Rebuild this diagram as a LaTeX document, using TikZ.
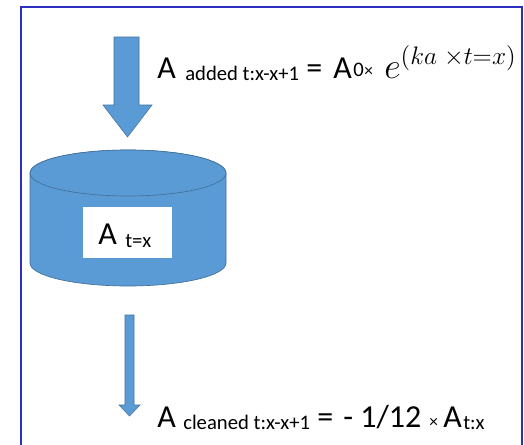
\documentclass[tikz,border=0pt]{standalone}
\usepackage{fix-cm}
\usepackage{fontspec}
\setmainfont{Carlito}
\usepackage{graphicx}
\definecolor{tankblue}{HTML}{5B9BD5}
\definecolor{tankedge}{HTML}{41719C}
\definecolor{framecol}{HTML}{2E2EBE}
\tikzset{
  big/.style={inner sep=0pt, anchor=base west, font=\fontsize{24}{28}\selectfont},
  small/.style={inner sep=0pt, anchor=base west, font=\fontsize{15.5}{18}\selectfont},
  tiny/.style={inner sep=0pt, anchor=base west, font=\fontsize{13}{15}\selectfont},
  blockarrow/.style={fill=tankblue, draw=tankedge, line width=0.4pt},
  tank/.style={fill=tankblue, draw=tankedge, line width=0.5pt},
  frameline/.style={draw=framecol, line width=2pt}
}
\begin{document}
\begin{tikzpicture}[x=0.75pt, y=0.75pt]
\useasboundingbox (0,0) rectangle (524,-444);
\clip (0,0) rectangle (524,-444);
\fill[white] (0,0) rectangle (524,-444);
% frame
\draw[frameline] (21,-7) rectangle (522,-470);
% top block arrow
\draw[blockarrow] (114,-37) -- (139,-37) -- (139,-105) -- (152,-105) -- (127.5,-137)
  -- (103,-105) -- (114,-105) -- cycle;
% tank
\draw[tank] (30,-173) -- (30,-263) arc[start angle=180, end angle=360, x radius=98, y radius=23]
  -- (226,-173) arc[start angle=0, end angle=180, x radius=98, y radius=23] -- cycle;
\draw[tank] (128,-173) ellipse [x radius=98, y radius=23];
\node[fill=white, inner sep=0pt, minimum width=89*0.75pt, minimum height=51*0.75pt] (box) at (127.5,-232.5) {};
\node[big] (at) at (98,-244) {A};
\node[small] (atsub) at (125,-247) {t=x};
% bottom block arrow
\draw[blockarrow] (125,-315) -- (134,-315) -- (134,-405) -- (140,-405) -- (129.5,-416)
  -- (119,-405) -- (125,-405) -- cycle;
% top equation
\node[big] (a1) at (157,-78) {A};
\node[small] (s1) at (185,-80) {added t:x-x+1};
\node[big] (eq1) at (306,-78) {=};
\node[big] (a0) at (333,-78) {A};
\node[small] (z0) at (353,-76) {0};
\node[tiny] (x1) at (364,-76) {×};
\node[inner sep=0pt, anchor=base west, font=\fontsize{24}{28}\selectfont] (ex) at (384,-78) {\scalebox{1.13}{$e^{(ka\;{\times}t{=}x)}$}};
% bottom equation
\node[big] (a2) at (157,-427) {A};
\node[small] (s2) at (183,-429) {cleaned t:x-x+1};
\node[big] (eq2) at (317,-427) {=};
\node[big] (frac) at (343,-427) {- 1/12};
\node[tiny] (x2) at (429,-427) {×};
\node[big] (a3) at (443,-427) {A};
\node[small] (s3) at (463,-429) {t:x};
\end{tikzpicture}
\end{document}
